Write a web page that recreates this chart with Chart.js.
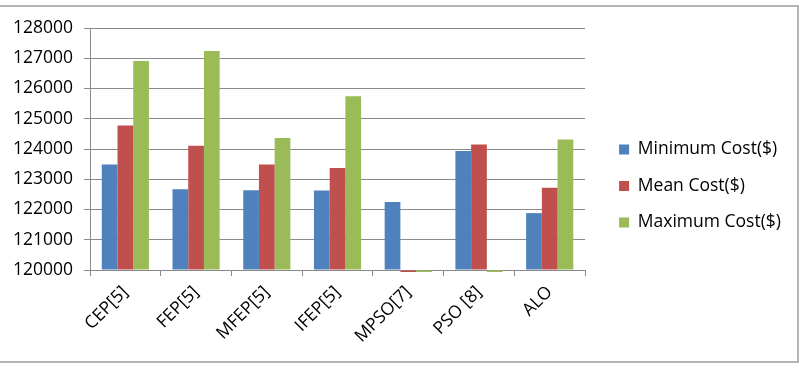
<!DOCTYPE html>
<html>
<head>
<meta charset="utf-8">
<script src="https://cdn.jsdelivr.net/npm/chart.js@4/dist/chart.umd.min.js"></script>
<style>
    html, body { margin: 0; padding: 0; background: #fff; }
    #quadro { position: relative; width: 810px; height: 370px; }
    #moldura { position: absolute; left: -4px; top: 5px; width: 799px; height: 354px; border: 2px solid #b4b4b4; }
    #grafico { position: absolute; left: 0; top: 0; }
</style>
</head>
<body>
<div id="quadro">
    <div id="moldura"></div>
    <canvas id="grafico" width="810" height="370"></canvas>
</div>
<script>
var categorias = ['CEP[5]', 'FEP[5]', 'MFEP[5]', 'IFEP[5]', 'MPSO[7]', 'PSO [8]', 'ALO'];
var custoMinimo = [123490, 122670, 122640, 122630, 122250, 123930, 121880];
var custoMedio = [124780, 124110, 123490, 123370, 0, 124150, 122720];
var custoMaximo = [126910, 127240, 124360, 125740, 0, 0, 124310];
var ticksY = [120000, 121000, 122000, 123000, 124000, 125000, 126000, 127000, 128000];

var fonte = { family: "'Open Sans', sans-serif", size: 17.5 };
var cinza = '#8a8a8a';

// acerta a posicao da legenda depois do layout
var deslocarLegenda = {
    id: 'deslocarLegenda',
    afterLayout: function (chart) {
        chart.legend.left += 15;
        chart.legend.right += 15;
        chart.legend.top -= 13;
        chart.legend.bottom -= 13;
    }
};

function serie(nome, dados, cor) {
    return {
        label: nome,
        data: dados,
        backgroundColor: cor,
        borderWidth: 0,
        base: ticksY[0],
        categoryPercentage: 0.667,
        barPercentage: 1,
        clip: { left: 0, top: 0, right: 0, bottom: 2 }
    };
}

new Chart(document.getElementById('grafico').getContext('2d'), {
    type: 'bar',
    data: {
        labels: categorias,
        datasets: [
            serie('Minimum Cost($)', custoMinimo, '#4f81bd'),
            serie('Mean Cost($)', custoMedio, '#c0504d'),
            serie('Maximum Cost($)', custoMaximo, '#9bbb59')
        ]
    },
    plugins: [deslocarLegenda],
    options: {
        responsive: false,
        animation: false,
        layout: { padding: { left: 0, top: 28, right: 34, bottom: 0 } },
        plugins: {
            tooltip: { enabled: false },
            legend: {
                position: 'right',
                labels: {
                    boxWidth: 10,
                    boxHeight: 10,
                    padding: 19,
                    color: '#000',
                    font: fonte
                }
            }
        },
        scales: {
            x: {
                grid: { offset: true, drawOnChartArea: false, tickLength: 6, color: cinza },
                border: { color: cinza },
                ticks: { color: '#000', font: fonte, minRotation: 45, maxRotation: 45, padding: 6 },
                afterFit: function (scale) { scale.height = 100; }
            },
            y: {
                min: 120000,
                max: 128000,
                afterBuildTicks: function (scale) {
                    scale.ticks = ticksY.map(function (v) { return { value: v }; });
                },
                grid: { color: cinza, tickLength: 6 },
                border: { color: cinza },
                ticks: {
                    color: '#000',
                    font: fonte,
                    padding: 11,
                    callback: function (value) { return String(value); }
                },
                afterFit: function (scale) { scale.width = 90; }
            }
        }
    }
});
</script>
</body>
</html>
